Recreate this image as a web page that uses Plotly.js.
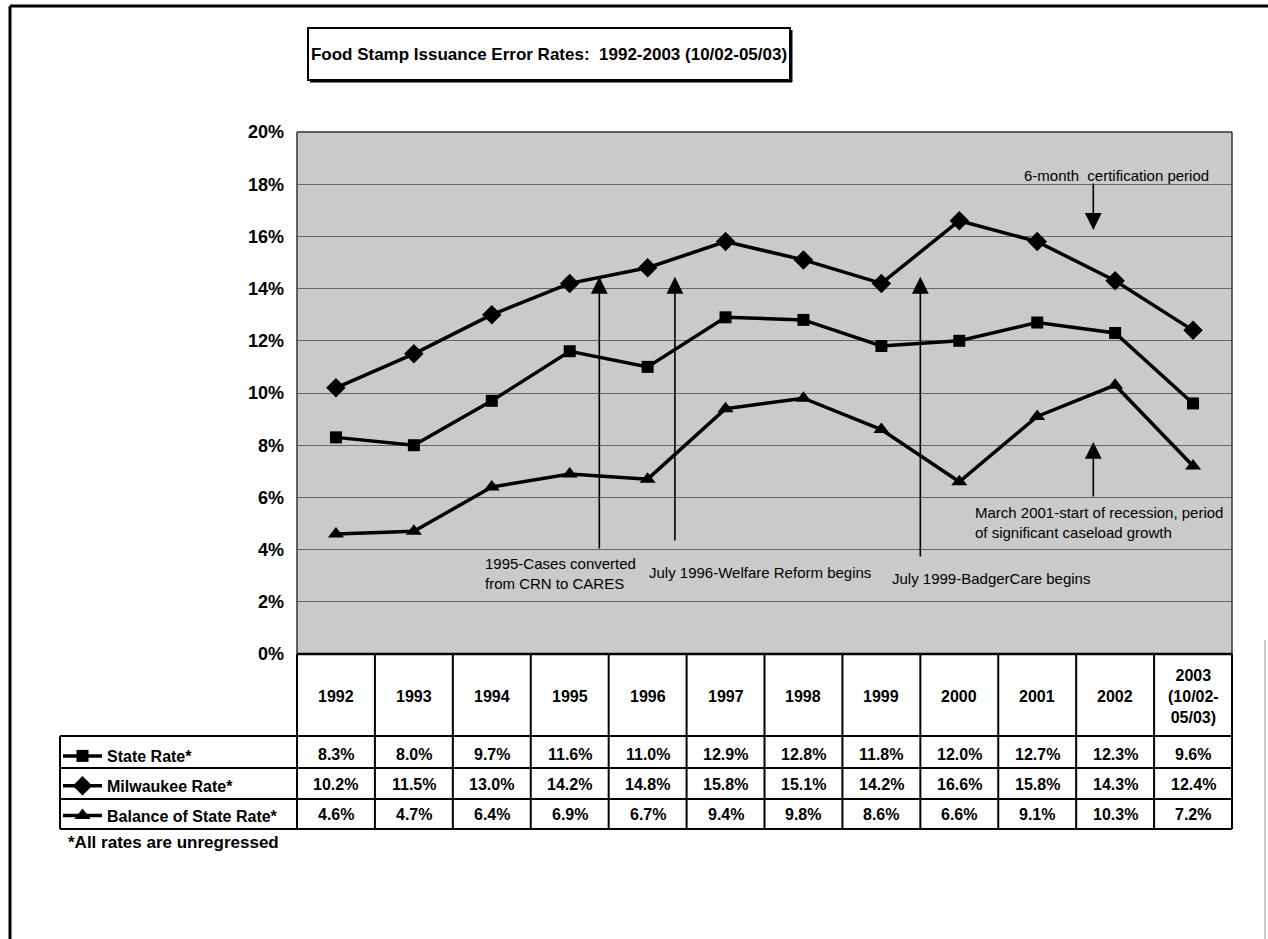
<!DOCTYPE html>
<html><head><meta charset="utf-8">
<script src="https://cdn.plot.ly/plotly-3.0.1.min.js"></script>
<style>html,body{margin:0;padding:0;background:#fff}#chart{width:1268px;height:939px}</style>
</head><body><div id="chart"></div>
<script>
// ---- data ----
const categories = ['1992','1993','1994','1995','1996','1997','1998','1999','2000','2001','2002','2003<br>(10/02-<br>05/03)'];
const stateRate     = [8.3, 8.0, 9.7, 11.6, 11.0, 12.9, 12.8, 11.8, 12.0, 12.7, 12.3, 9.6];
const milwaukeeRate = [10.2, 11.5, 13.0, 14.2, 14.8, 15.8, 15.1, 14.2, 16.6, 15.8, 14.3, 12.4];
const balanceRate   = [4.6, 4.7, 6.4, 6.9, 6.7, 9.4, 9.8, 8.6, 6.6, 9.1, 10.3, 7.2];
const seriesNames   = ['State Rate*', 'Milwaukee Rate*', 'Balance of State Rate*'];
const yTickValues   = [0, 2, 4, 6, 8, 10, 12, 14, 16, 18, 20];
const yTickLabels   = ['0%','2%','4%','6%','8%','10%','12%','14%','16%','18%','20%'];
const titleText = 'Food Stamp Issuance Error Rates:&nbsp; 1992-2003 (10/02-05/03)';
const footnote = '*All rates are unregressed';

// ---- layout helpers (pixel -> paper) ----
const W = 1268, H = 939;
const px = v => v / W;
const py = v => 1 - v / H;
const PL = 297, PR = 1232, PT = 132, PB = 654;
const rowLines = [736, 768, 799, 829];
const rowCenters = [754, 784, 814];
const FONT = '"Liberation Sans", Arial, sans-serif';
const idx = categories.map((c, i) => i);
const fmt = v => v.toFixed(1) + '%';

const markerStyles = [
  {symbol: 'square', size: 12},
  {symbol: 'diamond', size: 15},
  {symbol: 'triangle-up', size: 14}
];
const seriesData = [stateRate, milwaukeeRate, balanceRate];

const traces = seriesData.map((vals, k) => ({
  type: 'scatter', mode: 'lines+markers', name: seriesNames[k],
  x: idx, y: vals, legendgroup: 'g' + k,
  line: {color: '#000', width: 3.5},
  marker: {symbol: markerStyles[k].symbol, size: markerStyles[k].size, color: '#000'},
  cliponaxis: false, hoverinfo: 'skip'
}));

const shapes = [];
const line = (x0, y0, x1, y1, w, c) => shapes.push({type: 'line', xref: 'paper', yref: 'paper',
  x0: px(x0), y0: py(y0), x1: px(x1), y1: py(y1), line: {color: c || '#000', width: w}});

// plot background (stippled gray) + border
shapes.push({type: 'rect', xref: 'paper', yref: 'paper', layer: 'below',
  x0: px(PL), x1: px(PR), y0: py(PB), y1: py(PT), fillcolor: '#cacaca', line: {width: 0}});
line(PL, PT, PR, PT, 1.5, '#333');
line(PL, PT, PL, PB, 1.5, '#333');
line(PR, PT, PR, PB, 1.5, '#333');

// table grid
const colW = (PR - PL) / categories.length;
for (let k = 0; k <= categories.length; k++) {
  const xx = PL + k * colW;
  line(xx, PB, xx, rowLines[3], 2);
}
line(PL, PB, PR, PB, 2.5);
rowLines.forEach(yy => line(60, yy, PR, yy, 2));
line(60, rowLines[0], 60, rowLines[3], 2);

// outer page frame
line(10, 6, 10, 939, 3);
line(10, 6, 1268, 6, 3);
line(1265, 640, 1265, 939, 1, '#999');

// title box with shadow
shapes.push({type: 'rect', xref: 'paper', yref: 'paper', x0: px(308), x1: px(790), y0: py(80), y1: py(28),
  line: {color: '#000', width: 2}, fillcolor: 'rgba(0,0,0,0)'});
line(791, 30, 791, 82, 3);
line(310, 81, 792, 81, 3);

const annotations = [];
// header row
categories.forEach((c, i) => annotations.push({
  xref: 'x', yref: 'paper', x: i, y: py(696), text: '<b>' + c + '</b>', showarrow: false,
  xanchor: 'center', yanchor: 'middle', font: {family: FONT, size: 16, color: '#000'}
}));
// value rows
seriesData.forEach((vals, k) => vals.forEach((v, i) => annotations.push({
  xref: 'x', yref: 'paper', x: i, y: py(rowCenters[k]), text: '<b>' + fmt(v) + '</b>', showarrow: false,
  xanchor: 'center', yanchor: 'middle', font: {family: FONT, size: 16, color: '#000'}
})));
// footnote
annotations.push({xref: 'paper', yref: 'paper', x: px(66), y: py(842), text: '<b>' + footnote + '</b>',
  showarrow: false, xanchor: 'left', yanchor: 'middle', font: {family: FONT, size: 17, color: '#000'}});

// event notes
const noteFont = {family: FONT, size: 15, color: '#000'};
const note = (x, y, text) => annotations.push({xref: 'x', yref: 'y', x, y, text, showarrow: false,
  xanchor: 'left', yanchor: 'middle', align: 'left', font: noteFont});
note(1.89, 3.07, '1995-Cases converted<br>from CRN to CARES');
note(3.99, 3.14, 'July 1996-Welfare Reform begins');
note(7.11, 2.91, 'July 1999-BadgerCare begins');
note(8.81, 18.35, '6-month&nbsp; certification period');
note(8.18, 5.02, 'March 2001-start of recession, period<br>of significant caseload growth');

const arrow = (x, yTip, yTail) => annotations.push({xref: 'x', yref: 'y', axref: 'x', ayref: 'y',
  x, y: yTip, ax: x, ay: yTail, text: '', showarrow: true, arrowhead: 2, arrowsize: 2.1,
  arrowwidth: 1.6, arrowcolor: '#000', standoff: 0, startstandoff: 0});
arrow(3.38, 14.45, 3.98);
arrow(4.35, 14.45, 4.29);
arrow(7.50, 14.45, 3.68);
arrow(9.72, 16.25, 18.08);
arrow(9.72, 8.12, 5.98);

const layout = {
  width: W, height: H,
  margin: {l: 0, r: 0, t: 0, b: 0},
  paper_bgcolor: '#fff', plot_bgcolor: 'rgba(0,0,0,0)',
  title: {text: titleText, x: px(549), xanchor: 'center', y: py(54), yanchor: 'middle',
    font: {family: FONT, size: 17, color: '#000', weight: 'bold'}},
  xaxis: {domain: [px(PL), px(PR)], range: [-0.5, categories.length - 0.5], showgrid: false,
    zeroline: false, showticklabels: false, ticks: '', showline: false, fixedrange: true},
  yaxis: {domain: [py(PB), py(PT)], range: [0, 20], tickvals: yTickValues, ticktext: yTickLabels,
    showgrid: true, gridcolor: '#666', gridwidth: 1, zeroline: false, showline: false, ticks: '',
    ticklabelstandoff: 12, tickfont: {family: FONT, size: 18, color: '#000', weight: 'bold'}, fixedrange: true},
  showlegend: true,
  legend: {x: px(58), y: py(739), xanchor: 'left', yanchor: 'top', traceorder: 'grouped',
    tracegroupgap: 6, itemwidth: 39, bgcolor: 'rgba(0,0,0,0)', borderwidth: 0,
    font: {family: FONT, size: 16, color: '#000', weight: 'bold'}, itemclick: false, itemdoubleclick: false},
  shapes, annotations, hovermode: false
};

Plotly.newPlot('chart', traces, layout, {displayModeBar: false, staticPlot: true});
</script></body></html>
